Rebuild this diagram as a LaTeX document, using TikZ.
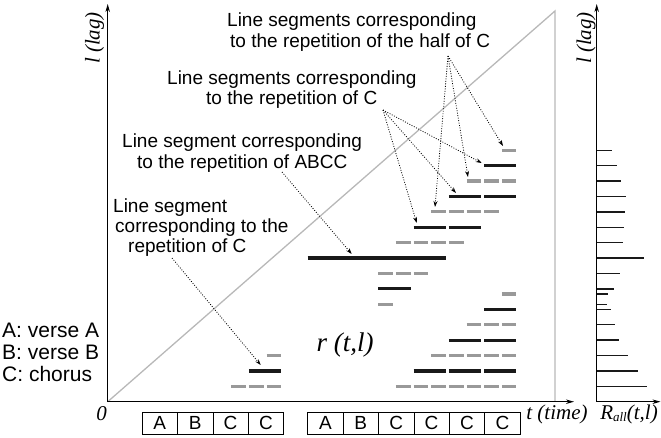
\documentclass[tikz,border=0pt]{standalone}
\usepackage{fontspec}
\setmainfont{Liberation Sans}
\newfontfamily\romanfam{Liberation Serif}
\usetikzlibrary{arrows.meta}

% one gray half-chorus dash and one black chorus-long bar (data units)
\newcommand\graydash[2]{\draw[gseg] (#1,#2) -- ++(0.83,0);}
\newcommand\blackbar[2]{\draw[bseg] (#1,#2) -- ++(1.83,0);}

\begin{document}
\begin{tikzpicture}[x=1pt,y=-1pt,
  axis/.style={line width=1.1pt,-{Stealth[length=8pt,width=4.5pt]}},
  guide/.style={line width=1.3pt,draw=black!28},
  gseg/.style={line width=3.2pt,draw=black!40},
  bseg/.style={line width=3.2pt,draw=black!90},
  rbar/.style={line width=1.4pt,draw=black!90},
  callout/.style={line width=0.8pt,dash pattern=on 0.9pt off 1.6pt,
    -{Stealth[length=6pt,width=4pt]}},
  calltext/.style={font=\fontsize{19}{21}\selectfont,inner sep=0pt,anchor=base west},
  keytext/.style={font=\fontsize{21}{22}\selectfont,inner sep=0pt,anchor=base west},
  mathlbl/.style={font=\romanfam\itshape\fontsize{21}{22}\selectfont,inner sep=0pt},
  segbox/.style={draw,line width=0.8pt,minimum width=35.4pt,minimum height=22pt,
    inner sep=0pt,anchor=north west,font=\fontsize{19}{19}\selectfont},
]
\useasboundingbox (0,0) rectangle (661,437);

% ---------- axes of the lag-time plane ----------
\coordinate (O) at (107.7,401.7);
\coordinate (ytop) at (107.7,4);
\coordinate (xend) at (574,401.7);
\coordinate (diagtop) at (555,11);
\coordinate (diagfoot) at (555,401.7);
\draw[guide] (O) -- (diagtop) -- (diagfoot);
\draw[axis] (O) -- (ytop);
\draw[axis] (O) -- (xend);

% ---------- axes of the summed histogram ----------
\coordinate (RO) at (596.7,401.7);
\coordinate (rtop) at (596.7,4);
\coordinate (rend) at (660.5,401.7);
\draw[axis] (RO) -- (rtop);
\draw[axis] (RO) -- (rend);

% ---------- line segments r(t,l) ----------
\begin{scope}[shift={(107.7,401.7)},x=17.65pt,y=15.4pt]
  % first ABCC
  \foreach \t in {7,8,9} {\graydash{\t}{1}}
  \blackbar{8}{2}
  \graydash{9}{3}
  % second ABCCCC
  \foreach \t in {16.33,17.33,...,22.4} {\graydash{\t}{1}}
  \foreach \t in {17.33,19.33,21.33} {\blackbar{\t}{2}}
  \foreach \t in {18.33,19.33,...,22.4} {\graydash{\t}{3}}
  \foreach \t in {19.33,21.33} {\blackbar{\t}{4}}
  \foreach \t in {20.33,21.33,22.33} {\graydash{\t}{5}}
  \blackbar{21.33}{6}
  \graydash{22.33}{7}
  \graydash{15.33}{6.33}
  \blackbar{15.33}{7.33}
  \foreach \t in {15.33,16.33,17.33} {\graydash{\t}{8.33}}
  \draw[bseg] (11.33,9.33) -- (19.15,9.33);
  \foreach \t in {16.33,17.33,18.33,19.33} {\graydash{\t}{10.33}}
  \foreach \t in {17.33,19.33} {\blackbar{\t}{11.33}}
  \foreach \t in {18.33,19.33,20.33,21.33} {\graydash{\t}{12.33}}
  \foreach \t in {19.33,21.33} {\blackbar{\t}{13.33}}
  \foreach \t in {20.33,21.33,22.33} {\graydash{\t}{14.33}}
  \blackbar{21.33}{15.33}
  \graydash{22.33}{16.33}
\end{scope}

% ---------- R_all(t,l): sum along each lag ----------
\begin{scope}[shift={(596.7,401.7)},x=1pt,y=15.4pt]
  \foreach \l/\len in {16.33/15.7,15.33/20.7,14.33/24.7,13.33/29.7,12.33/28.7,
      11.33/27.3,10.33/26.7,9.33/47.3,8.33/23.7,7.33/17.3,7/11.3,6.33/10.7,
      6/14.3,5/18.3,4/22.7,3/31.7,2/41,1/50}
    {\draw[rbar] (0,\l) -- (\len,\l);}
\end{scope}

% ---------- axis labels ----------
\node[mathlbl,rotate=90] (lagL) at (94.5,38) {l (lag)};
\node[mathlbl,rotate=90] (lagR) at (586,38) {l (lag)};
\node[mathlbl] (zero) at (101.5,414) {0};
\node[mathlbl] (tlab) at (557,414) {t (time)};
\node[mathlbl] (rall) at (629,414) {R\raisebox{-0.3ex}{\fontsize{13}{13}\selectfont all}(t,l)};
\node[mathlbl,font=\romanfam\itshape\fontsize{27}{28}\selectfont] (rtl) at (345,345) {r (t,l)};

% ---------- legend ----------
\node[keytext] (keyA) at (2,337) {A: verse A};
\node[keytext] (keyB) at (2,359) {B: verse B};
\node[keytext] (keyC) at (2,381) {C: chorus};

% ---------- song structure ----------
\foreach \s [count=\i from 0] in {A,B,C,C}
  \node[segbox] (p\i) at (141.7+35.4*\i,412) {\s};
\foreach \s [count=\i from 0] in {A,B,C,C,C,C}
  \node[segbox] (q\i) at (307.3+35.4*\i,412) {\s};

% ---------- callout texts ----------
\node[calltext] (half1) at (227,26) {Line segments corresponding};
\node[calltext] (half2) at (230,47) {to the repetition of the half of C};
\node[calltext] (rep1) at (167,84) {Line segments corresponding};
\node[calltext] (rep2) at (206,104) {to the repetition of C};
\node[calltext] (abcc1) at (122,147) {Line segment corresponding};
\node[calltext] (abcc2) at (137,168) {to the repetition of ABCC};
\node[calltext] (one1) at (113,212) {Line segment};
\node[calltext] (one2) at (115,232) {corresponding to the};
\node[calltext] (one3) at (128,252) {repetition of C};

% ---------- callout arrows ----------
\coordinate (hsrc) at (448,56);
\coordinate (ht1) at (435,207);
\coordinate (ht2) at (468,177);
\coordinate (ht3) at (503,146);
\coordinate (csrc) at (383,110);
\coordinate (ct1) at (416.7,223);
\coordinate (ct2) at (456,193);
\coordinate (ct3) at (481.7,163);
\coordinate (asrc) at (282,172);
\coordinate (atgt) at (351.7,254);
\coordinate (osrc) at (172,258);
\coordinate (otgt) at (260.7,365);
\foreach \e in {ht1,ht2,ht3} \draw[callout] (hsrc) -- (\e);
\foreach \e in {ct1,ct2,ct3} \draw[callout] (csrc) -- (\e);
\draw[callout] (asrc) -- (atgt);
\draw[callout] (osrc) -- (otgt);
\end{tikzpicture}
\end{document}
